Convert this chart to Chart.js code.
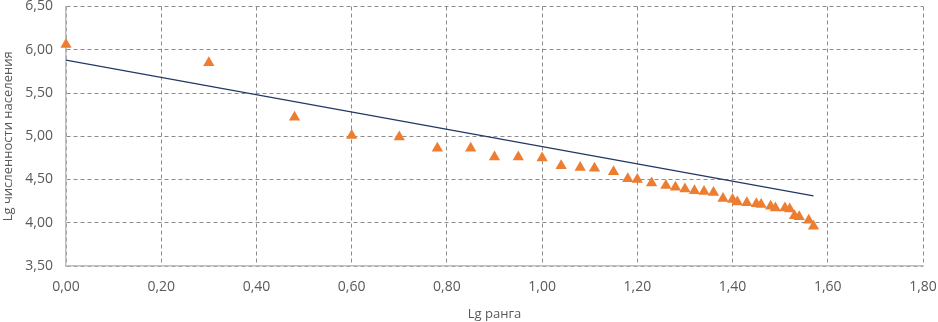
<!DOCTYPE html>
<html>
<head>
<meta charset="utf-8">
<script src="https://cdn.jsdelivr.net/npm/chart.js@4/dist/chart.umd.min.js"></script>
<style>
  html, body { margin: 0; padding: 0; background: #fff; }
  #wrap { width: 938px; height: 322px; position: relative; }
</style>
</head>
<body>
<div id="wrap"><canvas id="chart"></canvas></div>
<script>
// Lg ранга (x) and Lg численности населения (y)
const rankLog = [0.00, 0.30, 0.48, 0.60, 0.70, 0.78, 0.85, 0.90, 0.95, 1.00,
  1.04, 1.08, 1.11, 1.15, 1.18, 1.20, 1.23, 1.26, 1.28, 1.30,
  1.32, 1.34, 1.36, 1.38, 1.40, 1.41, 1.43, 1.45, 1.46, 1.48,
  1.49, 1.51, 1.52, 1.53, 1.54, 1.56, 1.57];
const popLog = [6.06, 5.85, 5.22, 5.01, 4.99, 4.86, 4.86, 4.76, 4.76, 4.75,
  4.66, 4.64, 4.63, 4.59, 4.51, 4.50, 4.46, 4.43, 4.41, 4.39,
  4.37, 4.36, 4.35, 4.28, 4.27, 4.24, 4.23, 4.22, 4.21, 4.19,
  4.17, 4.17, 4.16, 4.08, 4.07, 4.03, 3.96];

// linear trend line ends
const trendX = [0.00, 1.57];
const trendY = [5.88, 4.31];

const xTitle = 'Lg ранга';
const yTitle = 'Lg численности населения';

const fmt = v => v.toFixed(2).replace('.', ',');
const FONT = "'Open Sans', 'Noto Sans', sans-serif";

new Chart(document.getElementById('chart'), {
  type: 'scatter',
  data: {
    datasets: [
      {
        label: 'Lg численности',
        data: rankLog.map((x, i) => ({ x, y: popLog[i] })),
        pointStyle: 'triangle',
        pointRadius: 6.5,
        backgroundColor: '#ED7D31',
        borderColor: '#ED7D31',
        borderWidth: 0,
        clip: false,
        order: 2
      },
      {
        label: 'Тренд',
        type: 'line',
        data: trendX.map((x, i) => ({ x, y: trendY[i] })),
        borderColor: '#1F3864',
        borderWidth: 1.2,
        pointRadius: 0,
        fill: false,
        order: 1
      }
    ]
  },
  options: {
    responsive: true,
    maintainAspectRatio: false,
    animation: false,
    layout: { padding: { top: 5, right: 15, left: 0, bottom: 0 } },
    plugins: {
      legend: { display: false },
      tooltip: { enabled: false }
    },
    scales: {
      x: {
        type: 'linear',
        min: 0,
        max: 1.8,
        ticks: {
          stepSize: 0.2,
          callback: v => fmt(v),
          color: '#595959',
          font: { family: FONT, size: 14 },
          padding: 13
        },
        grid: { color: '#8C8C8C', lineWidth: 1, drawTicks: false },
        border: { display: true, color: '#BFBFBF', width: 1.5, dash: [4, 3] },
        title: {
          display: true,
          text: xTitle,
          color: '#595959',
          font: { family: FONT, size: 13 },
          padding: { top: 2, bottom: 0 }
        },
        afterFit: s => { s.height = 56; s.paddingLeft = 0; s.paddingRight = 0; }
      },
      y: {
        min: 3.5,
        max: 6.5,
        ticks: {
          stepSize: 0.5,
          callback: v => fmt(v),
          color: '#595959',
          font: { family: FONT, size: 14 },
          padding: 13
        },
        grid: { color: '#8C8C8C', lineWidth: 1, drawTicks: false },
        border: { display: true, color: '#BFBFBF', width: 1.5, dash: [4, 3] },
        title: {
          display: true,
          text: yTitle,
          color: '#595959',
          font: { family: FONT, size: 13 },
          padding: { top: 0, bottom: 4 }
        },
        afterFit: s => { s.width = 66; s.paddingTop = 0; s.paddingBottom = 0; }
      }
    }
  }
});
</script>
</body>
</html>
